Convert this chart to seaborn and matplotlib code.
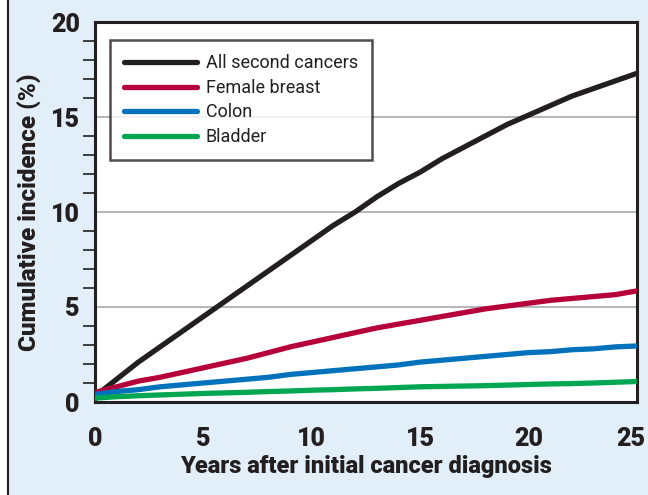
import numpy as np
import pandas as pd
import matplotlib
matplotlib.use('Agg')
import matplotlib.pyplot as plt
import matplotlib.transforms as mtransforms
import seaborn as sns
from matplotlib.ticker import MultipleLocator
from matplotlib.patches import Rectangle
from matplotlib.lines import Line2D

years = list(range(0, 26))
all_second = [0.3, 1.2, 2.1, 2.9, 3.7, 4.5, 5.3, 6.1, 6.9, 7.7, 8.5, 9.3, 10.0,
              10.8, 11.5, 12.1, 12.8, 13.4, 14.0, 14.6, 15.1, 15.6, 16.1, 16.5,
              16.9, 17.3]
female_breast = [0.5, 0.8, 1.1, 1.3, 1.55, 1.8, 2.05, 2.3, 2.6, 2.9, 3.15, 3.4,
                 3.65, 3.9, 4.1, 4.3, 4.5, 4.7, 4.9, 5.05, 5.2, 5.35, 5.45,
                 5.55, 5.65, 5.85]
colon = [0.4, 0.55, 0.65, 0.8, 0.9, 1.0, 1.1, 1.2, 1.3, 1.45, 1.55, 1.65, 1.75,
         1.85, 1.95, 2.1, 2.2, 2.3, 2.4, 2.5, 2.6, 2.65, 2.75, 2.8, 2.9, 2.95]
bladder = [0.2, 0.28, 0.33, 0.37, 0.41, 0.45, 0.48, 0.51, 0.55, 0.58, 0.62,
           0.65, 0.69, 0.72, 0.76, 0.8, 0.82, 0.84, 0.86, 0.89, 0.92, 0.95,
           0.97, 1.0, 1.04, 1.08]

series_names = ["All second cancers", "Female breast", "Colon", "Bladder"]
series_colors = ["#231f20", "#b5003b", "#0072bc", "#00a651"]
x_ticks = [0, 5, 10, 15, 20, 25]

df = pd.DataFrame({
    "years": years * 4,
    "value": all_second + female_breast + colon + bladder,
    "series": sum([[n] * len(years) for n in series_names], []),
})

sns.set_style("white")
plt.rcParams['font.family'] = ['Roboto', 'DejaVu Sans']

fig = plt.figure(figsize=(6.48, 4.95), dpi=100)
fig.patch.set_facecolor("#e2eef8")
fig.patches.append(Rectangle((0, 0), 7 / 648, 1, transform=fig.transFigure,
                             facecolor="white", edgecolor="none", zorder=0))
fig.lines.append(Line2D([7.5 / 648, 7.5 / 648], [0, 1], transform=fig.transFigure,
                        color="#231f20", lw=1.5))

ax = fig.add_axes([95 / 648, 93 / 495, 542 / 648, 380 / 495])
ax.set_facecolor("white")

for y in [5, 10, 15]:
    ax.axhline(y, color="#a7a9ac", lw=1.2, zorder=1)

sns.lineplot(data=df, x="years", y="value", hue="series", hue_order=series_names,
             palette=series_colors, linewidth=3.8, ax=ax, legend=False, zorder=3)

ax.set_xlim(0, 25)
ax.set_ylim(0, 20)
ax.set_xticks(x_ticks)
ax.set_xticklabels([str(t) for t in x_ticks])
ax.yaxis.set_major_locator(MultipleLocator(5))
ax.yaxis.set_minor_locator(MultipleLocator(1))
ax.tick_params(axis="both", which="major", direction="out", length=9, width=1.2,
               color="#231f20", labelsize=18, labelcolor="#231f20")
ax.tick_params(axis="y", which="minor", direction="out", length=9, width=1.2,
               color="#231f20", left=True)
ax.tick_params(axis="x", which="major", length=10, pad=8)
ax.tick_params(axis="y", which="major", pad=2)
for lbl in ax.get_xticklabels() + ax.get_yticklabels():
    lbl.set_fontweight("heavy")

# keep the last x tick label inside the figure
last = ax.get_xticklabels()[-1]
last.set_transform(last.get_transform() +
                   mtransforms.ScaledTranslation(-6 / 100, 0, fig.dpi_scale_trans))

for s in ax.spines.values():
    s.set_visible(True)
    s.set_color("#231f20")
    s.set_linewidth(2.2)

ax.set_xlabel("Years after initial cancer diagnosis", fontsize=17,
              fontweight="heavy", color="#231f20", labelpad=3)
ax.set_ylabel("Cumulative incidence (%)", fontsize=17.5, fontweight="heavy",
              color="#231f20", labelpad=6)

handles = [Line2D([0], [0], color=c, lw=3.8, solid_capstyle="round")
           for c in series_colors]
leg = ax.legend(handles, series_names, loc="upper left",
                bbox_to_anchor=(15 / 542, 1 - 18 / 380), borderaxespad=0,
                fontsize=13, handlelength=4.0, handletextpad=0.5,
                labelspacing=0.36, frameon=True, fancybox=False, borderpad=0.8)
leg.get_frame().set_edgecolor("#231f20")
leg.get_frame().set_linewidth(1.8)
for t in leg.get_texts():
    t.set_color("#231f20")

plt.savefig("out.png", dpi=100, facecolor=fig.get_facecolor())
plt.close()
